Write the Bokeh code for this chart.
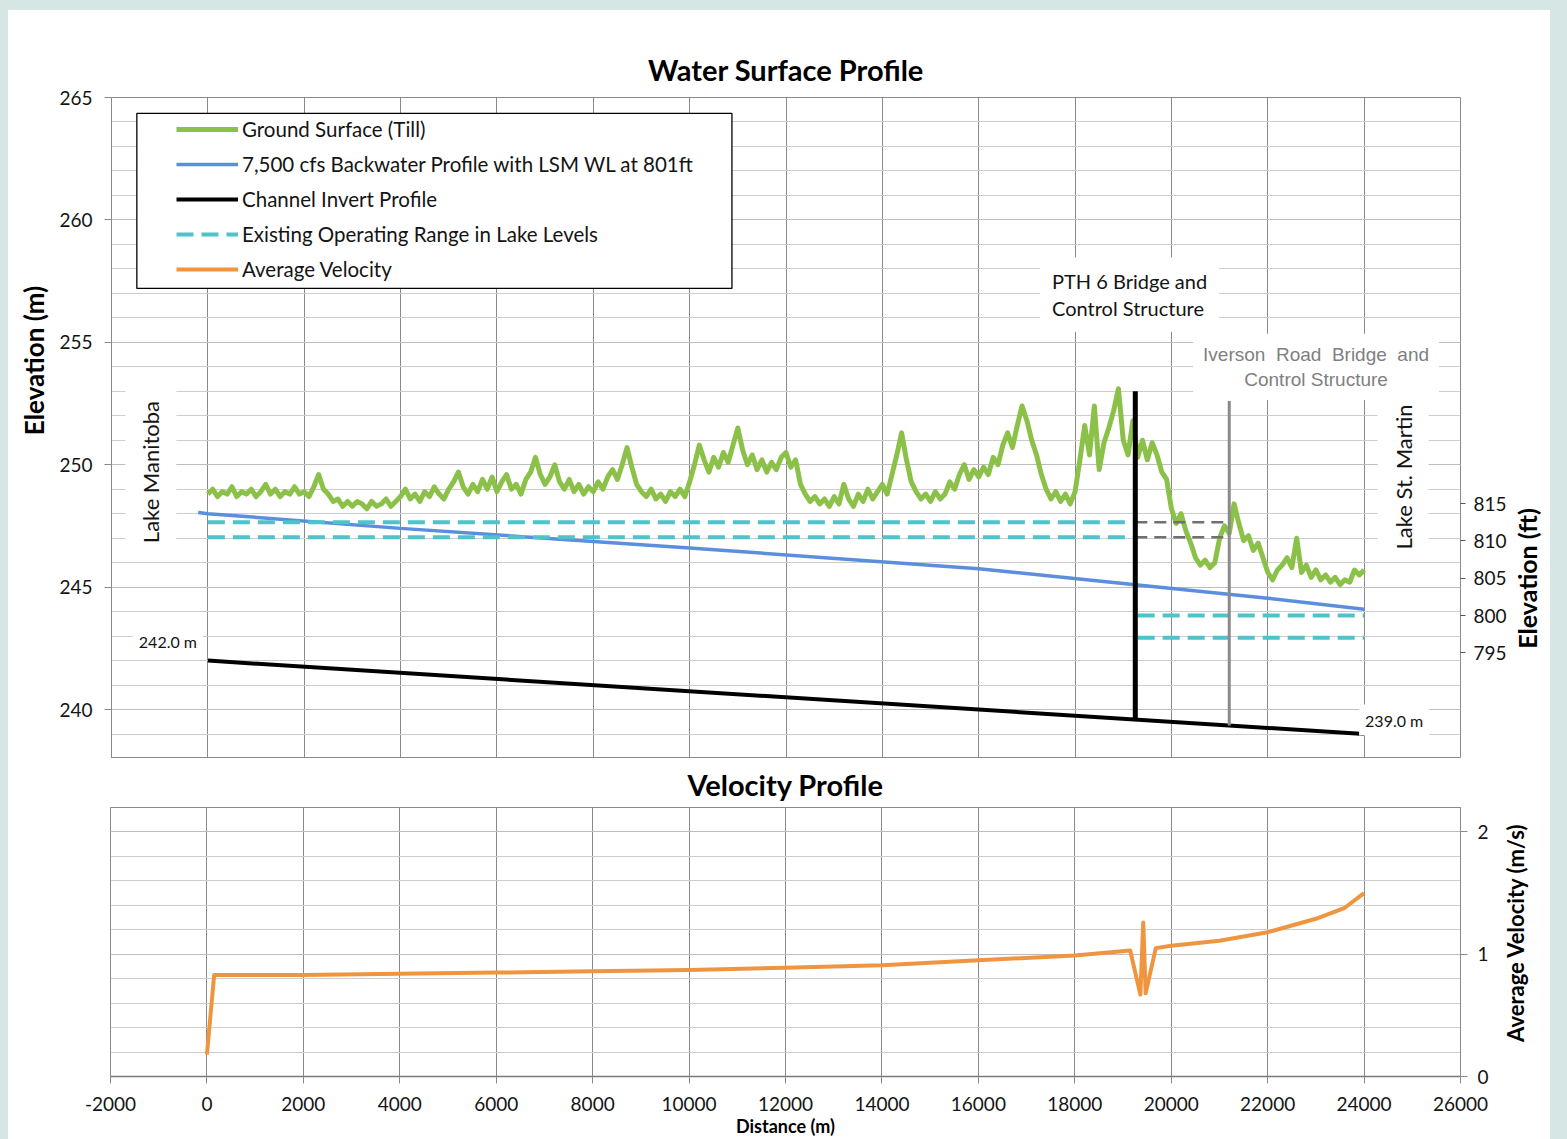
import math
from bokeh.plotting import figure
from bokeh.layouts import column, row
from bokeh.models import (Range1d, LinearAxis, SingleIntervalTicker, FixedTicker, Label,
                          Legend, LegendItem, BoxAnnotation, NumeralTickFormatter)
from bokeh.embed import file_html
from bokeh.resources import INLINE

# ---------------- data ----------------
ground_x = list(range(0, 24001, 100))
ground_elev = [
    248.8, 249.0, 248.7, 248.9, 248.8, 249.1, 248.7, 248.9, 248.8, 249.0,
    248.7, 248.9, 249.2, 248.8, 249.0, 248.7, 248.9, 248.8, 249.1, 248.8,
    248.9, 248.7, 249.1, 249.6, 249.0, 248.8, 248.5, 248.6, 248.3, 248.5,
    248.3, 248.5, 248.4, 248.2, 248.5, 248.3, 248.4, 248.6, 248.3, 248.5,
    248.7, 249.0, 248.6, 248.8, 248.5, 248.9, 248.7, 249.1, 248.8, 248.6,
    249.0, 249.3, 249.7, 249.1, 248.8, 249.2, 248.9, 249.4, 249.0, 249.5,
    248.9, 249.3, 249.6, 249.0, 249.2, 248.8, 249.4, 249.7, 250.3, 249.6,
    249.2, 249.5, 250.0, 249.3, 249.0, 249.4, 248.9, 249.2, 248.8, 249.1,
    248.9, 249.3, 249.0, 249.5, 249.8, 249.4, 250.0, 250.7, 249.9, 249.2,
    248.9, 248.7, 249.0, 248.6, 248.8, 248.5, 248.9, 248.7, 249.0, 248.7,
    249.3, 250.0, 250.8, 250.2, 249.7, 250.3, 249.9, 250.5, 250.1, 250.8,
    251.5, 250.6, 250.0, 250.4, 249.8, 250.2, 249.7, 250.1, 249.8, 250.3,
    250.5, 249.9, 250.2, 249.2, 248.8, 248.5, 248.7, 248.4, 248.6, 248.3,
    248.7, 248.4, 249.2, 248.6, 248.3, 248.8, 248.5, 249.0, 248.6, 248.9,
    249.2, 248.8, 249.6, 250.4, 251.3, 250.2, 249.3, 248.9, 248.6, 248.8,
    248.5, 248.9, 248.6, 248.8, 249.3, 249.0, 249.6, 250.0, 249.4, 249.8,
    249.5, 249.9, 249.6, 250.3, 250.0, 250.8, 251.3, 250.7, 251.6, 252.4,
    251.8, 251.0, 250.4, 249.6, 249.0, 248.6, 248.9, 248.5, 248.8, 248.4,
    248.9, 250.2, 251.6, 250.4, 252.4, 249.8, 250.9, 251.5, 252.2, 253.1,
    251.0, 250.4, 251.8, 250.3, 251.0, 250.2, 250.9, 250.4, 249.7, 249.4,
    248.2, 247.6, 248.0, 247.3, 246.8, 246.2, 245.9, 246.1, 245.8, 246.0,
    247.0, 247.5, 247.2, 248.4, 247.6, 246.9, 247.1, 246.5, 246.8, 246.2,
    245.6, 245.3, 245.7, 245.9, 246.2, 245.8, 247.0, 245.6, 245.9, 245.4,
    245.7, 245.3, 245.5, 245.2, 245.4, 245.1, 245.3, 245.2, 245.7, 245.5,
    245.7,
]
wsp_x = [-200, 0, 4000, 10000, 16000, 19250, 22000, 24000]
wsp_elev = [248.05, 248.0, 247.4, 246.6, 245.75, 245.1, 244.55, 244.1]
invert_x = [0, 24000]
invert_elev = [242.0, 239.0]
lm_range_x = [0, 19250]
lm_range_levels = [247.65, 247.04]
gap_x = [19250, 21200]
lsm_range_x = [19300, 24000]
lsm_range_levels = [243.84, 242.93]
structure_x = [19250, 21200]
structure_top = [253.0, 252.6]
structure_bottom = [239.6, 239.35]
vel_x = [0, 150, 2000, 4000, 6000, 8000, 10000, 12000, 14000, 16000, 18000,
         19150, 19360, 19420, 19470, 19680, 20000, 21000, 22000, 23000, 23600, 24000]
vel = [0.18, 0.83, 0.83, 0.84, 0.85, 0.86, 0.87, 0.89, 0.91, 0.95, 0.99,
       1.03, 0.67, 1.26, 0.68, 1.05, 1.07, 1.11, 1.18, 1.29, 1.38, 1.50]
ft_ticks = [795, 800, 805, 810, 815]
M_PER_FT = 0.3048

# ---------------- styles ----------------
FONT = "Lato"
GREEN = "#8cc149"
BLUE = "#5b8fdd"
CYAN = "#4ec3ca"
ORANGE = "#f0953f"
GRID_V = "#8a8a8a"
GRID_H = "#bdbdbd"
GRID_MINOR = "#cdcdcd"
TXT = "#141414"
TEAL = "#d5e6e5"
TOP_H = 748
BOT_H = 381
# page rows of the two plot frames (side panels share these frames)
TOP_FRAME = (758, 97)
BOT_FRAME = (1077, 806)

XR = Range1d(-2000, 26000)


def style_common(fig):
    fig.background_fill_color = "white"
    fig.border_fill_color = "white"
    fig.outline_line_color = GRID_V
    fig.outline_line_width = 1
    fig.title.text_font = FONT
    fig.title.text_font_size = "29px"
    fig.title.text_font_style = "bold"
    fig.title.text_color = "black"
    fig.title.align = "center"
    fig.xgrid.ticker = SingleIntervalTicker(interval=2000, num_minor_ticks=0)
    fig.xgrid.grid_line_color = GRID_V
    fig.xgrid.grid_line_width = 1


def style_yaxis(ax):
    ax.axis_line_color = GRID_V
    ax.major_tick_line_color = GRID_V
    ax.major_tick_out = 7
    ax.major_tick_in = 0
    ax.minor_tick_out = 0
    ax.minor_tick_in = 0
    ax.major_label_text_font = FONT
    ax.major_label_text_font_size = "19px"
    ax.major_label_text_color = TXT


def side_panel(width, height, frame, xpos, ypos, text, size):
    """Narrow blank canvas that carries one vertical axis title."""
    s = figure(width=width, height=height, x_range=Range1d(0, width),
               y_range=Range1d(frame[0], frame[1]), x_axis_location=None,
               y_axis_location=None, output_backend="svg", toolbar_location=None,
               min_border=0)
    s.grid.visible = False
    s.outline_line_color = None
    s.background_fill_color = "white"
    s.border_fill_color = "white"
    s.add_layout(Label(x=xpos, y=ypos, text=text, angle=math.pi / 2,
                       text_align="center", text_baseline="middle", text_font=FONT,
                       text_font_size=size, text_font_style="bold", text_color="black"))
    return s


# ---------------- top figure ----------------
p = figure(width=1456, height=TOP_H, x_range=XR, y_range=Range1d(238, 265),
           output_backend="svg", toolbar_location=None, title="Water Surface Profile",
           min_border_left=54, min_border_right=52, min_border_top=87, min_border_bottom=0)
style_common(p)
p.title.standoff = 21
p.xaxis.visible = False
ytick = SingleIntervalTicker(interval=5, num_minor_ticks=5)
p.yaxis.ticker = ytick
p.ygrid.ticker = ytick
p.ygrid.grid_line_color = GRID_H
p.ygrid.minor_grid_line_color = GRID_MINOR
style_yaxis(p.yaxis[0])
p.yaxis.major_label_standoff = 12

p.extra_y_ranges = {"ft": Range1d(238 / M_PER_FT, 265 / M_PER_FT)}
ft_axis = LinearAxis(y_range_name="ft", ticker=FixedTicker(ticks=ft_ticks),
                     axis_line_color=None, major_tick_out=5, major_tick_in=0,
                     minor_tick_out=0, minor_tick_in=0, major_tick_line_color="#555555",
                     major_label_text_font=FONT, major_label_text_font_size="19px",
                     major_label_text_color=TXT, major_label_standoff=8)
p.add_layout(ft_axis, "right")

r_ground = p.line(ground_x, ground_elev, line_color=GREEN, line_width=5, line_join="round")
r_wsp = p.line(wsp_x, wsp_elev, line_color=BLUE, line_width=3.5)
r_inv = p.line(invert_x, invert_elev, line_color="black", line_width=4)
r_lm = p.multi_line(xs=[lm_range_x for _ in lm_range_levels],
                    ys=[[lv, lv] for lv in lm_range_levels],
                    line_color=CYAN, line_width=4, line_dash="17 8")
p.multi_line(xs=[gap_x for _ in lm_range_levels], ys=[[lv, lv] for lv in lm_range_levels],
             line_color="#707070", line_width=2.5, line_dash="12 7")
p.multi_line(xs=[lsm_range_x for _ in lsm_range_levels], ys=[[lv, lv] for lv in lsm_range_levels],
             line_color=CYAN, line_width=4, line_dash="17 8")
p.segment(x0=structure_x[:1], y0=structure_bottom[:1], x1=structure_x[:1], y1=structure_top[:1],
          line_color="black", line_width=5)
p.segment(x0=structure_x[1:], y0=structure_bottom[1:], x1=structure_x[1:], y1=structure_top[1:],
          line_color="#8a8a8a", line_width=3)
# velocity drawn on the elevation axes (far below the visible range) only to feed the legend
r_vel_legend = p.line(vel_x, vel, line_color=ORANGE, line_width=4)

# legend frame
p.add_layout(BoxAnnotation(left=-1474, right=10878, top=264.35, bottom=257.2,
                           fill_color="white", fill_alpha=1.0, line_color="black",
                           line_width=1.3, line_alpha=1.0))
legend = Legend(items=[
    LegendItem(label="Ground Surface (Till)", renderers=[r_ground]),
    LegendItem(label="7,500 cfs Backwater Profile with LSM WL at 801ft", renderers=[r_wsp]),
    LegendItem(label="Channel Invert Profile", renderers=[r_inv]),
    LegendItem(label="Existing Operating Range in Lake Levels", renderers=[r_lm]),
    LegendItem(label="Average Velocity", renderers=[r_vel_legend]),
], location=(58, 470), border_line_alpha=0, background_fill_alpha=0,
    glyph_width=62, glyph_height=20, label_height=20, spacing=11, padding=7,
    label_standoff=4, label_text_font=FONT, label_text_font_size="20.5px",
    label_text_color=TXT, margin=0)
p.add_layout(legend)


def txt(fig, x, y, text, size="18px", angle=0.0, align="left", color=TXT, font=FONT,
        pad=6, lh=1.1):
    fig.add_layout(Label(x=x, y=y, text=text, angle=angle, text_align=align,
                         text_baseline="middle", text_font=font, text_font_size=size,
                         text_color=color, background_fill_color="white",
                         background_fill_alpha=1.0, padding=pad, text_line_height=lh))


txt(p, -1183, 249.7, "Lake Manitoba", size="22px", angle=math.pi / 2, align="center", pad=12)
txt(p, 24810, 249.5, "Lake St. Martin", size="22px", angle=math.pi / 2, align="center", pad=12)
txt(p, 17272, 256.95, "PTH 6 Bridge and\nControl Structure", size="20px", pad=12)
txt(p, 23002, 254.0,
    "Iverson\u00a0\u00a0Road\u00a0\u00a0Bridge\u00a0\u00a0and\nControl Structure",
    size="19px", align="center", color="#808080", font="Liberation Sans", pad=10, lh=1.2)
txt(p, -1557, 242.76, "242.0 m", size="16px", pad=6)
txt(p, 23895, 239.57, "239.0 m", size="16px", pad=6)

side_left = side_panel(48, TOP_H, TOP_FRAME, 25, 360, "Elevation (m)", "26px")
side_ft = side_panel(38, TOP_H, TOP_FRAME, 14, 578, "Elevation (ft)", "25px")

# ---------------- bottom figure ----------------
q = figure(width=1492, height=BOT_H, x_range=XR, y_range=Range1d(0, 2.2),
           y_axis_location="right", output_backend="svg", toolbar_location=None,
           title="Velocity Profile",
           min_border_left=102, min_border_right=40, min_border_top=48, min_border_bottom=62)
style_common(q)
q.title.standoff = 12
vtick = SingleIntervalTicker(interval=1, num_minor_ticks=5)
q.yaxis.ticker = vtick
q.ygrid.ticker = vtick
q.ygrid.grid_line_color = GRID_H
q.ygrid.minor_grid_line_color = GRID_MINOR
style_yaxis(q.yaxis[0])
q.yaxis.major_label_standoff = 10

q.xaxis.ticker = SingleIntervalTicker(interval=2000, num_minor_ticks=0)
q.xaxis.formatter = NumeralTickFormatter(format="0")
q.xaxis.axis_line_color = "#7a7a7a"
q.xaxis.axis_line_width = 1.5
q.xaxis.major_tick_line_color = GRID_V
q.xaxis.major_tick_out = 7
q.xaxis.major_tick_in = 0
q.xaxis.minor_tick_out = 0
q.xaxis.major_label_text_font = FONT
q.xaxis.major_label_text_font_size = "19px"
q.xaxis.major_label_text_color = TXT
q.xaxis.major_label_standoff = 13
q.xaxis.axis_label = "Distance (m)"
q.xaxis.axis_label_text_font = FONT
q.xaxis.axis_label_text_font_size = "18px"
q.xaxis.axis_label_text_font_style = "bold"
q.xaxis.axis_label_text_color = "black"
q.xaxis.axis_label_standoff = 1

q.line(vel_x, vel, line_color=ORANGE, line_width=4, line_join="round")

side_vel = side_panel(50, BOT_H, BOT_FRAME, 15, 932, "Average Velocity (m/s)", "22px")

inner = column(row(side_left, p, side_ft, spacing=0, styles={"background-color": "white"}),
               row(q, side_vel, spacing=0, styles={"background-color": "white"}),
               spacing=0, styles={"background-color": "white"})
layout = column(inner, spacing=0,
                styles={"background-color": TEAL, "padding": "10px 17px 0px 8px"})
open("out.html", "w").write(file_html(layout, INLINE))
